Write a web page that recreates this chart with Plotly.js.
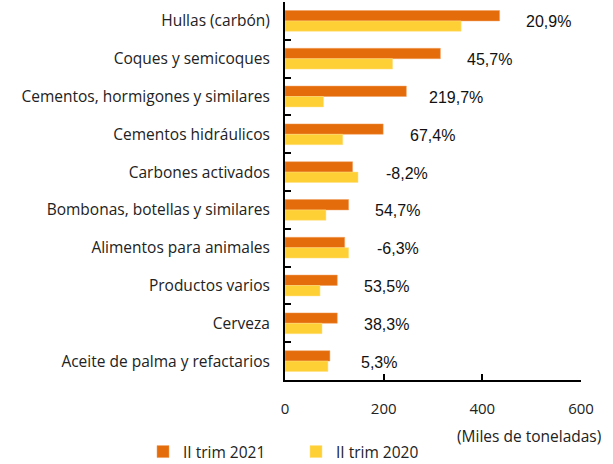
<!DOCTYPE html>
<html>
<head>
<meta charset="utf-8">
<script src="https://cdn.plot.ly/plotly-3.0.1.min.js"></script>
<style>html,body{margin:0;padding:0;background:#fff;}#chart{width:613px;height:464px;}</style>
</head>
<body>
<div id="chart"></div>
<script>
var categories = [
  "Hullas (carbón)",
  "Coques y semicoques",
  "Cementos, hormigones y similares",
  "Cementos hidráulicos",
  "Carbones activados",
  "Bombonas, botellas y similares",
  "Alimentos para animales",
  "Productos varios",
  "Cerveza",
  "Aceite de palma y refactarios"
];
var trim2021 = [435, 315, 246, 199, 137, 129, 121, 106, 106, 91];
var trim2020 = [357, 218, 78, 117, 148, 83, 129, 71, 75, 87];
var pctLabels = ["20,9%", "45,7%", "219,7%", "67,4%", "-8,2%", "54,7%", "-6,3%", "53,5%", "38,3%", "5,3%"];
var xTicks = [0, 200, 400, 600];
var seriesNames = ["II trim 2021", "II trim 2020"];

var catFont = {family: "'Open Sans', Lato, sans-serif", size: 15.5, color: "#222"};

var traces = [
  {type: "bar", orientation: "h", name: seriesNames[0], y: categories, x: trim2021,
   marker: {color: "#E46C0A", line: {color: "#F0A060", width: 0.5}}, hoverinfo: "x+name"},
  {type: "bar", orientation: "h", name: seriesNames[1], y: categories, x: trim2020,
   marker: {color: "#FFD035", line: {color: "#FFE080", width: 0.5}}, hoverinfo: "x+name"}
];

var annotations = categories.map(function (c, i) {
  return {
    x: Math.max(trim2021[i], trim2020[i]) + 100, y: c, xref: "x", yref: "y",
    text: pctLabels[i], showarrow: false, xanchor: "center", yanchor: "middle", yshift: -1,
    font: {family: "'Liberation Sans', Arial, sans-serif", size: 16, color: "#111"}
  };
});
annotations.push({
  x: (603 - 285) / (613 - 285 - 32), y: -(436 - 380) / (380 - 2), xref: "paper", yref: "paper",
  xanchor: "right", yanchor: "middle",
  text: "(Miles de toneladas)", showarrow: false, font: {family: catFont.family, size: 15.5, color: "#222"}
});

var layout = {
  width: 613, height: 464,
  margin: {l: 285, r: 32, t: 2, b: 84, autoexpand: false},
  paper_bgcolor: "#fff", plot_bgcolor: "#fff",
  barmode: "group", bargap: 0.45, bargroupgap: 0,
  showlegend: true,
  legend: {orientation: "h", xref: "paper", yref: "paper",
           x: (143 - 285) / 296, xanchor: "left", y: -(452 - 380) / 378, yanchor: "middle",
           bgcolor: "rgba(0,0,0,0)",
           font: catFont, entrywidth: 108, entrywidthmode: "pixels", itemwidth: 30, traceorder: "normal"},
  xaxis: {
    range: [0, 600], tickvals: xTicks, ticktext: xTicks.map(String),
    showgrid: false, zeroline: false, showline: true, linecolor: "#000", linewidth: 2,
    ticks: "inside", ticklen: 6, tickwidth: 2, tickcolor: "#000",
    ticklabelstandoff: 14,
    tickfont: {family: catFont.family, size: 15, color: "#222"}, fixedrange: true
  },
  yaxis: {
    type: "category", autorange: "reversed", tickson: "boundaries",
    showgrid: false, zeroline: false, showline: true, linecolor: "#000", linewidth: 2,
    ticks: "inside", ticklen: 6, tickwidth: 2, tickcolor: "#000",
    ticklabelstandoff: 10,
    tickfont: catFont, fixedrange: true
  },
  annotations: annotations
};

Plotly.newPlot("chart", traces, layout, {displayModeBar: false, staticPlot: true});
</script>
</body>
</html>
